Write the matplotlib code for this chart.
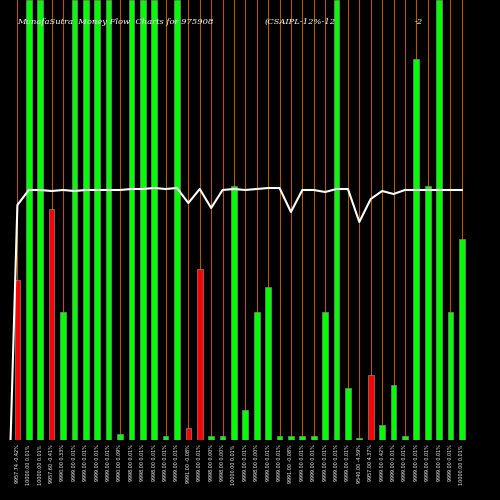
import matplotlib.pyplot as plt

# bar heights (pixel-like units above baseline) and colours
heights = [160, 440, 440, 231, 128, 440, 440, 440, 440, 6, 440, 440, 440, 4, 440, 12, 171, 4, 4, 254,
           30, 128, 153, 4, 4, 4, 4, 128, 440, 52, 2, 65, 15, 55, 4, 381, 254, 440, 128, 201]
colors = ["r", "g", "g", "r", "g", "g", "g", "g", "g", "g", "g", "g", "g", "g", "g", "r", "r", "g", "g", "g",
          "g", "g", "g", "g", "g", "g", "g", "g", "g", "g", "g", "r", "g", "g", "g", "g", "g", "g", "g", "g"]
line = [235, 250, 250, 249, 250, 249, 250, 250, 250, 250, 251, 251, 252, 251, 252, 237, 251, 232, 250, 251,
        250, 251, 252, 252, 228, 250, 250, 248, 251, 251, 218, 241, 249, 246, 250, 250, 250, 250, 250, 250]
labels = ["%s %.2f%%" % (d, p) for d, p in zip(
    ["9957.74", "10000.00", "10000.00", "9957.60", "9990.00", "9999.00", "9999.00", "9999.00", "9999.00", "9990.00",
     "9998.00", "9998.00", "9998.00", "9999.00", "9999.00", "9991.00", "9999.00", "9998.00", "9998.00", "10000.00",
     "9999.00", "9998.00", "9999.00", "9999.00", "9991.00", "9999.00", "9999.00", "9999.00", "9999.00", "9999.00",
     "9540.00", "9957.00", "9999.00", "9999.00", "9999.00", "9999.00", "9999.00", "9999.00", "9999.00", "10000.00"],
    [-0.42, 0.01, 0.01, -0.41, 0.33, 0.01, 0.01, 0.01, 0.01, 0.09, 0.01, 0.01, 0.01, 0.01, 0.01, -0.08, 0.01, 0.00,
     0.00, 0.01, 0.01, 0.00, 0.01, 0.01, -0.08, 0.01, 0.01, 0.01, 0.01, 0.01, -4.59, 4.37, 0.42, 0.01, 0.01, 0.01,
     0.01, 0.01, 0.01, 0.01])]

cmap = {"r": "#ff0000", "g": "#00ff00"}
x = list(range(len(heights)))

fig = plt.figure(figsize=(5, 5), dpi=100, facecolor="black")
ax = fig.add_axes([0.012, 0.12, 0.93, 0.88])
ax.set_facecolor("black")
for xi in x:
    ax.axvline(xi, color="#b35900", lw=0.8, zorder=0)
ax.bar(x, heights, width=0.5, color=[cmap[c] for c in colors], edgecolor="#888888", linewidth=0.5, zorder=2)
ax.plot([-0.6] + x, [0] + line, color="white", lw=1.5, zorder=3)
ax.set_xlim(-1, len(x) - 0.2)
ax.set_ylim(0, 440)
ax.set_xticks(x)
ax.set_xticklabels(labels, rotation=90, color="white", fontsize=3.5)
ax.tick_params(axis="x", length=0, pad=3)
ax.set_yticks([])
for s in ax.spines.values():
    s.set_visible(False)

fig.text(0.035, 0.957, "MunafaSutra  Money Flow  Charts for 975908", color="white", fontsize=6,
         family="DejaVu Serif", style="italic", va="center", zorder=5)
fig.text(0.53, 0.957, "(CSAIPL-12%-12", color="white", fontsize=6, family="DejaVu Serif", style="italic",
         va="center", zorder=5)
fig.text(0.83, 0.957, "-2", color="white", fontsize=6, family="DejaVu Serif", style="italic", va="center", zorder=5)

fig.savefig("out.png", dpi=100, facecolor="black")
